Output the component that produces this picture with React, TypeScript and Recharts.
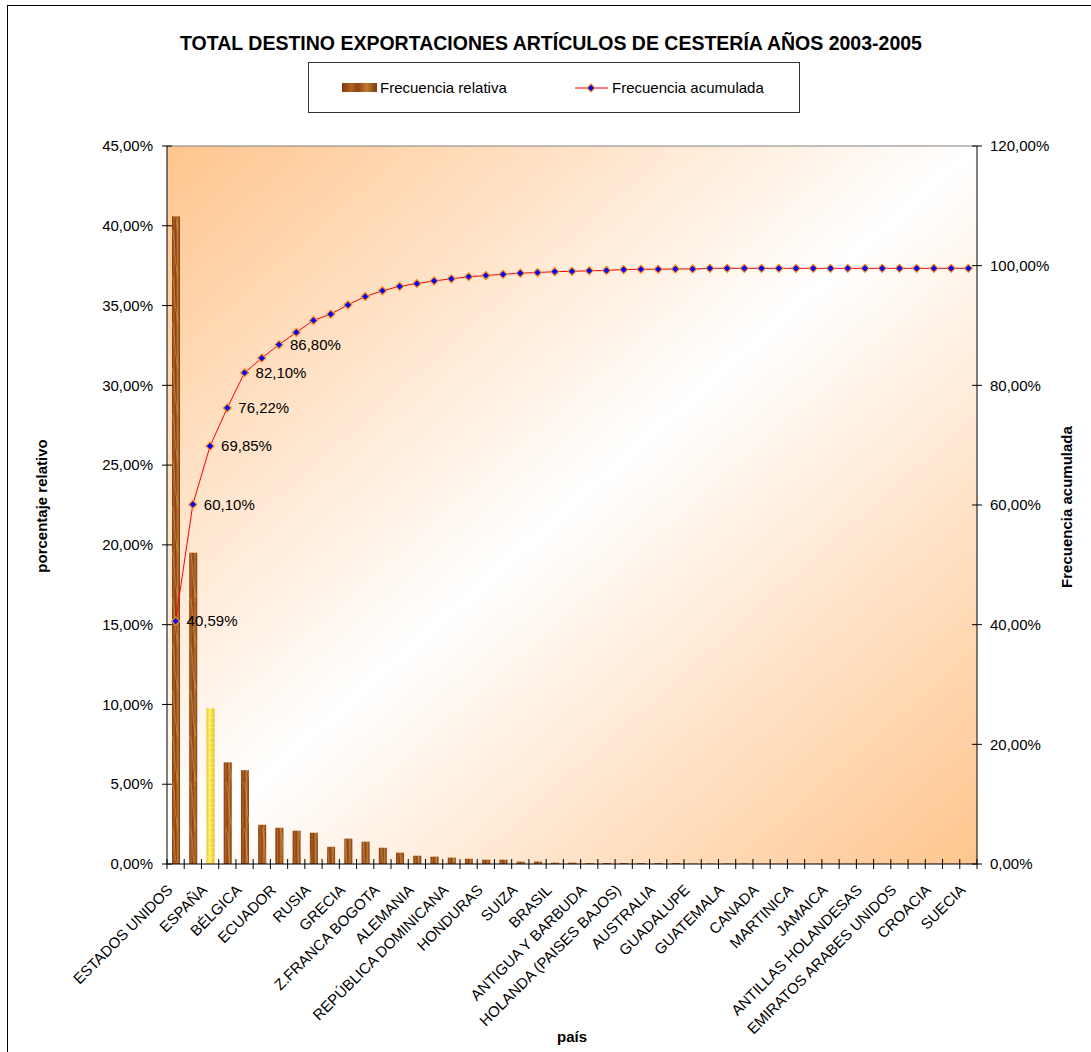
import React from "react";
import {
  ComposedChart,
  Bar,
  Line,
  XAxis,
  YAxis,
  CartesianGrid,
  LabelList,
  ReferenceLine,
} from "recharts";

const CATEGORIES = [
  "ESTADOS UNIDOS", "VENEZUELA", "ESPAÑA", "MÉXICO", "BÉLGICA", "PANAMÁ",
  "ECUADOR", "ITALIA", "RUSIA", "FRANCIA", "GRECIA", "REINO UNIDO",
  "Z.FRANCA BOGOTA", "JAPÓN", "ALEMANIA", "COSTA RICA", "REPÚBLICA DOMINICANA",
  "CHILE", "HONDURAS", "PERÚ", "SUIZA", "ARUBA", "BRASIL", "PUERTO RICO",
  "ANTIGUA Y BARBUDA", "ARGENTINA", "HOLANDA (PAISES BAJOS)", "BARBADOS",
  "AUSTRALIA", "EL SALVADOR", "GUADALUPE", "NICARAGUA", "GUATEMALA",
  "PORTUGAL", "CANADA", "TRINIDAD Y TOBAGO", "MARTINICA", "BAHAMAS",
  "JAMAICA", "DINAMARCA", "ANTILLAS HOLANDESAS", "NORUEGA",
  "EMIRATOS ARABES UNIDOS", "FINLANDIA", "CROACIA", "SUDÁFRICA", "SUECIA",
];

// frecuencia relativa (%)
const RELATIVE = [
  40.59, 19.51, 9.75, 6.37, 5.88, 2.46, 2.27, 2.09, 1.96, 1.08, 1.59, 1.4,
  1.02, 0.71, 0.52, 0.46, 0.4, 0.33, 0.27, 0.27, 0.15, 0.15, 0.08, 0.08,
  0.06, 0.06, 0.06, 0.06, 0.06, 0.06, 0.02, 0.02, 0.02, 0.02, 0.01, 0.01,
  0.01, 0.01, 0.01, 0.01, 0.01, 0.01, 0.01, 0.01, 0.01, 0.01, 0.01,
];

// frecuencia acumulada (%)
const CUMULATIVE = [
  40.59, 60.1, 69.85, 76.22, 82.1, 84.55, 86.8, 88.85, 90.85, 91.9, 93.45,
  94.85, 95.8, 96.55, 97.0, 97.45, 97.8, 98.15, 98.35, 98.55, 98.75, 98.85,
  99.0, 99.05, 99.15, 99.2, 99.35, 99.4, 99.4, 99.45, 99.45, 99.55, 99.55,
  99.55, 99.55, 99.55, 99.55, 99.55, 99.55, 99.55, 99.55, 99.55, 99.55,
  99.55, 99.55, 99.55, 99.55,
];

const LEFT_TICKS = [0, 5, 10, 15, 20, 25, 30, 35, 40, 45];
const RIGHT_TICKS = [0, 20, 40, 60, 80, 100, 120];
// puntos de la acumulada que llevan etiqueta
const LABELED_POINTS = [0, 1, 2, 3, 4, 6];
const HIGHLIGHT_BAR = 2;

const FONT = "'Liberation Sans', Arial, sans-serif";
const W = 1091;
const H = 1052;
const PLOT_LEFT = 167;
const PLOT_RIGHT = 977;
const PLOT_TOP = 146;
const PLOT_BOTTOM = 864;
const BAND = (PLOT_RIGHT - PLOT_LEFT) / CATEGORIES.length;

const pct = (v: number) => `${v.toFixed(2).replace(".", ",")}%`;

const data = CATEGORIES.map((name, i) => ({
  name,
  rel: RELATIVE[i],
  cum: CUMULATIVE[i],
}));

function XTick(props: any) {
  const { x, index } = props;
  const name = props.payload?.value as string;
  const left = x - BAND / 2;
  const tx = x - 2;
  const ty = PLOT_BOTTOM + 27;
  return (
    <g>
      <line x1={left} x2={left} y1={PLOT_BOTTOM - 5} y2={PLOT_BOTTOM + 5} stroke="#000" />
      {index === CATEGORIES.length - 1 && (
        <line x1={x + BAND / 2} x2={x + BAND / 2} y1={PLOT_BOTTOM - 5} y2={PLOT_BOTTOM + 5} stroke="#000" />
      )}
      {index % 2 === 0 && (
        <text
          x={tx}
          y={ty}
          textAnchor="end"
          fontSize={15}
          fontFamily={FONT}
          fill="#000"
          transform={`rotate(-45, ${tx}, ${ty})`}
        >
          {name}
        </text>
      )}
    </g>
  );
}

function LeftTick(props: any) {
  const { y, payload } = props;
  return (
    <g>
      <line x1={PLOT_LEFT - 5} x2={PLOT_LEFT + 5} y1={y} y2={y} stroke="#000" />
      <text x={153} y={y} dy="0.35em" textAnchor="end" fontSize={15} fontFamily={FONT} fill="#000">
        {pct(payload.value)}
      </text>
    </g>
  );
}

function RightTick(props: any) {
  const { y, payload } = props;
  return (
    <g>
      <line x1={PLOT_RIGHT - 5} x2={PLOT_RIGHT + 5} y1={y} y2={y} stroke="#000" />
      <text x={990} y={y} dy="0.35em" textAnchor="start" fontSize={15} fontFamily={FONT} fill="#000">
        {pct(payload.value)}
      </text>
    </g>
  );
}

function WoodBar(props: any) {
  const { x, y, width, height, index } = props;
  if (!height || height <= 0) return <g />;
  const yellow = index === HIGHLIGHT_BAR;
  return (
    <g>
      <rect x={x} y={y} width={width} height={height} fill={yellow ? "url(#yellowGrad)" : "url(#woodGrad)"} />
      <rect x={x} y={y} width={width} height={height} fill={yellow ? "url(#yellowStreak)" : "url(#woodStreak)"} />
    </g>
  );
}

function Diamond(props: any) {
  const { cx, cy, index } = props;
  if (cx == null || cy == null) return <g key={`d-${index}`} />;
  const r = 4;
  return (
    <path
      key={`d-${index}`}
      d={`M${cx},${cy - r}L${cx + r},${cy}L${cx},${cy + r}L${cx - r},${cy}Z`}
      fill="#0000FF"
      stroke="#FF8C1A"
      strokeWidth={1.2}
    />
  );
}

function PointLabel(props: any) {
  const { x, y, index, value } = props;
  if (!LABELED_POINTS.includes(index)) return null;
  return (
    <text x={x + 11} y={y} dy="0.35em" fontSize={15} fontFamily={FONT} fill="#000">
      {pct(value)}
    </text>
  );
}

function WoodDefs({ prefix = "" }: { prefix?: string }) {
  return (
    <defs>
      <linearGradient id={`${prefix}woodGrad`} x1="0" y1="0" x2="1" y2="0">
        <stop offset="0%" stopColor="#7A3A10" />
        <stop offset="25%" stopColor="#B4621F" />
        <stop offset="45%" stopColor="#8A4414" />
        <stop offset="70%" stopColor="#C47A30" />
        <stop offset="100%" stopColor="#7A3A10" />
      </linearGradient>
      <pattern id={`${prefix}woodStreak`} patternUnits="userSpaceOnUse" width="9" height="46">
        <path d="M1,0 C5,12 2,24 7,46" stroke="#E8B070" strokeOpacity={0.55} strokeWidth={0.8} fill="none" />
        <path d="M6,4 C3,16 8,28 4,40" stroke="#5A2808" strokeOpacity={0.35} strokeWidth={0.7} fill="none" />
      </pattern>
      <linearGradient id={`${prefix}yellowGrad`} x1="0" y1="0" x2="1" y2="0">
        <stop offset="0%" stopColor="#E8C21E" />
        <stop offset="40%" stopColor="#FFF06A" />
        <stop offset="70%" stopColor="#F5D83A" />
        <stop offset="100%" stopColor="#E0B818" />
      </linearGradient>
      <pattern id={`${prefix}yellowStreak`} patternUnits="userSpaceOnUse" width="9" height="10">
        <path d="M0,2 L9,4 M0,7 L9,8" stroke="#FFFBC0" strokeOpacity={0.6} strokeWidth={0.8} fill="none" />
      </pattern>
    </defs>
  );
}

export default function App() {
  return (
    <div
      style={{
        position: "absolute",
        left: 0,
        top: 0,
        width: W,
        height: H,
        overflow: "hidden",
        background: "#fff",
      }}
    >
      <ComposedChart
        width={W}
        height={H}
        data={data}
        margin={{ top: PLOT_TOP, right: 0, bottom: 0, left: 0 }}
      >
        <WoodDefs />
        <defs>
          <linearGradient id="plotBg" x1="0" y1="0" x2="1" y2="1">
            <stop offset="0%" stopColor="#FFC58E" />
            <stop offset="50%" stopColor="#FFFFFF" />
            <stop offset="100%" stopColor="#FFC58E" />
          </linearGradient>
        </defs>
        <CartesianGrid yAxisId="left" horizontal={false} vertical={false} fill="url(#plotBg)" />
        <XAxis
          dataKey="name"
          height={H - PLOT_BOTTOM}
          interval={0}
          tickLine={false}
          axisLine={{ stroke: "#000" }}
          tick={<XTick />}
        />
        <YAxis
          yAxisId="left"
          orientation="left"
          width={PLOT_LEFT}
          domain={[0, 45]}
          ticks={LEFT_TICKS}
          interval={0}
          tickLine={false}
          axisLine={{ stroke: "#000" }}
          tick={<LeftTick />}
        />
        <YAxis
          yAxisId="right"
          orientation="right"
          width={W - PLOT_RIGHT}
          domain={[0, 120]}
          ticks={RIGHT_TICKS}
          interval={0}
          tickLine={false}
          axisLine={{ stroke: "#000" }}
          tick={<RightTick />}
        />
        <ReferenceLine yAxisId="left" y={45} stroke="#808080" />
        <Bar
          yAxisId="left"
          dataKey="rel"
          barSize={8}
          shape={<WoodBar />}
          isAnimationActive={false}
        />
        <Line
          yAxisId="right"
          dataKey="cum"
          type="linear"
          stroke="#FF0000"
          strokeWidth={1}
          dot={(p: any) => <Diamond {...p} />}
          activeDot={false}
          isAnimationActive={false}
        >
          <LabelList dataKey="cum" content={<PointLabel />} />
        </Line>
      </ComposedChart>

      {/* título, leyenda y rótulos de ejes */}
      <svg
        width={W}
        height={H}
        style={{ position: "absolute", left: 0, top: 0, pointerEvents: "none" }}
        fontFamily={FONT}
      >
        <WoodDefs prefix="lg-" />
        <rect x={7.5} y={5.5} width={1200} height={1200} fill="none" stroke="#000" />
        <text x={551} y={50} textAnchor="middle" fontSize={19.5} fontWeight="bold" fill="#000">
          TOTAL DESTINO EXPORTACIONES ARTÍCULOS DE CESTERÍA AÑOS 2003-2005
        </text>
        <rect x={308.5} y={62.5} width={491} height={50} fill="#fff" stroke="#333" />
        <rect x={342} y={83} width={35} height={9} fill="url(#lg-woodGrad)" />
        <text x={380} y={88} dy="0.35em" fontSize={15} fill="#000">
          Frecuencia relativa
        </text>
        <line x1={575} x2={608} y1={88} y2={88} stroke="#FF0000" />
        <path d="M591,84L595,88L591,92L587,88Z" fill="#0000FF" stroke="#FF8C1A" strokeWidth={1.2} />
        <text x={612} y={88} dy="0.35em" fontSize={15} fill="#000">
          Frecuencia acumulada
        </text>
        <text
          x={42}
          y={506}
          dy="0.35em"
          textAnchor="middle"
          fontSize={15}
          fontWeight="bold"
          transform="rotate(-90, 42, 506)"
          fill="#000"
        >
          porcentaje relativo
        </text>
        <text
          x={1067}
          y={507}
          dy="0.35em"
          textAnchor="middle"
          fontSize={15}
          fontWeight="bold"
          transform="rotate(-90, 1067, 507)"
          fill="#000"
        >
          Frecuencia acumulada
        </text>
        <text x={572} y={1042} textAnchor="middle" fontSize={15} fontWeight="bold" fill="#000">
          país
        </text>
      </svg>
    </div>
  );
}
